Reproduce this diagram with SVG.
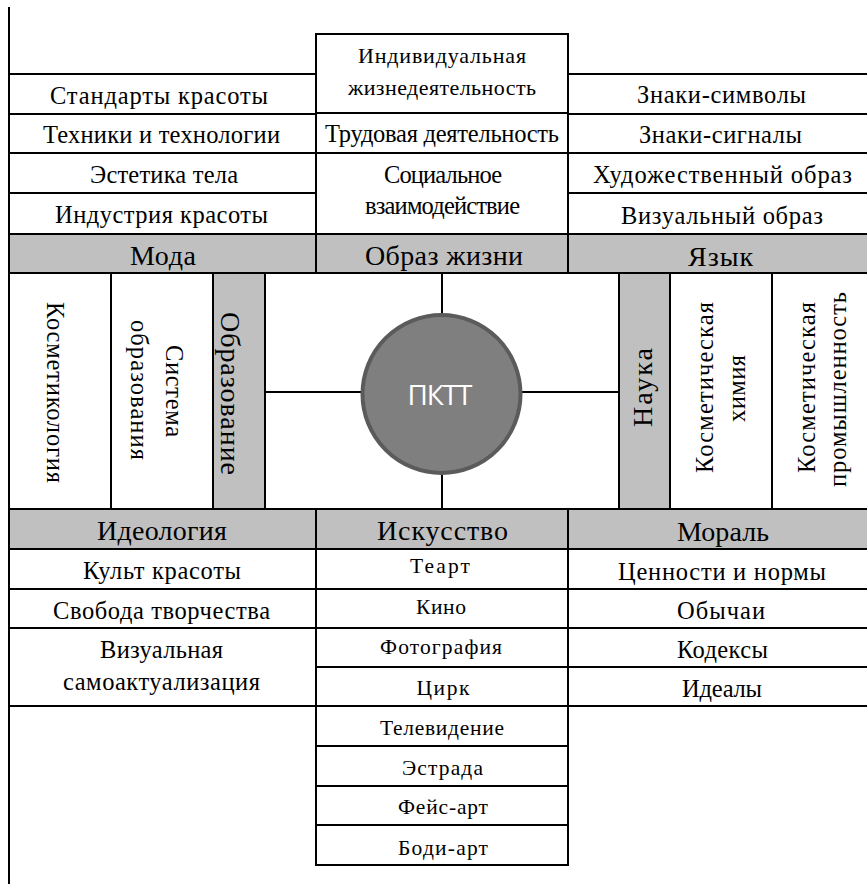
<svg xmlns="http://www.w3.org/2000/svg" width="867" height="884" viewBox="0 0 867 884">
<style>
.c{fill:#ffffff;stroke:#000000;stroke-width:2}
.h{fill:#c0c0c0;stroke:#000000;stroke-width:2}
.t{font-family:"Liberation Serif","Times New Roman",serif;font-size:24.5px;fill:#000000;text-anchor:middle}
.s{font-size:22px}
.xs{font-size:21.5px}
.hd{font-size:28px}
.ln{stroke:#000000;stroke-width:2;fill:none}
</style>
<rect x="0" y="0" width="867" height="884" fill="#ffffff"/>

<g id="frame">
<line class="ln" x1="9" y1="7" x2="9" y2="884"/>
</g>

<g id="moda-items">
<rect class="c" x="9" y="74" width="307" height="40"/>
<rect class="c" x="9" y="114" width="307" height="39"/>
<rect class="c" x="9" y="153" width="307" height="40"/>
<rect class="c" x="9" y="193" width="307" height="41"/>
<text class="t" x="159" y="104" textLength="218" lengthAdjust="spacing">Стандарты красоты</text>
<text class="t" x="161.5" y="143" textLength="237" lengthAdjust="spacing">Техники и технологии</text>
<text class="t" x="164" y="183" textLength="148" lengthAdjust="spacing">Эстетика тела</text>
<text class="t" x="161.5" y="223" textLength="213" lengthAdjust="spacing">Индустрия красоты</text>
</g>

<g id="obraz-items">
<rect class="c" x="316" y="34" width="252" height="79"/>
<rect class="c" x="316" y="113" width="252" height="40"/>
<rect class="c" x="316" y="153" width="252" height="81"/>
<text class="t s" x="442" y="63" textLength="168" lengthAdjust="spacing">Индивидуальная</text>
<text class="t s" x="442" y="95" textLength="188" lengthAdjust="spacing">жизнедеятельность</text>
<text class="t" x="442" y="142" textLength="234" lengthAdjust="spacing">Трудовая деятельность</text>
<text class="t" x="443" y="183" textLength="118" lengthAdjust="spacing">Социальное</text>
<text class="t" x="442.5" y="214" textLength="155" lengthAdjust="spacing">взаимодействие</text>
</g>

<g id="yazyk-items">
<rect class="c" x="568" y="74" width="301" height="40"/>
<rect class="c" x="568" y="114" width="301" height="39"/>
<rect class="c" x="568" y="153" width="301" height="40"/>
<rect class="c" x="568" y="193" width="301" height="41"/>
<text class="t" x="721.5" y="103" textLength="169" lengthAdjust="spacing">Знаки-символы</text>
<text class="t" x="720.5" y="143" textLength="163" lengthAdjust="spacing">Знаки-сигналы</text>
<text class="t" x="722.5" y="183" textLength="259" lengthAdjust="spacing">Художественный образ</text>
<text class="t" x="722" y="224" textLength="202" lengthAdjust="spacing">Визуальный образ</text>
</g>

<g id="headers-top">
<rect class="h" x="9" y="234" width="307" height="39"/>
<rect class="h" x="316" y="234" width="252" height="39"/>
<rect class="h" x="568" y="234" width="301" height="39"/>
<text class="t hd" x="163" y="265" textLength="66" lengthAdjust="spacing">Мода</text>
<text class="t hd" x="444" y="265" textLength="158" lengthAdjust="spacing">Образ жизни</text>
<text class="t hd" x="720.5" y="266" textLength="65" lengthAdjust="spacing">Язык</text>
</g>

<g id="obrazovanie">
<rect class="c" x="9" y="273" width="102" height="236"/>
<rect class="c" x="111" y="273" width="102" height="236"/>
<rect class="h" x="213" y="273" width="52" height="236"/>
<text class="t" transform="translate(47,392.5) rotate(90)" textLength="181" lengthAdjust="spacing">Косметикология</text>
<text class="t" transform="translate(166,391) rotate(90)" textLength="92" lengthAdjust="spacing">Система</text>
<text class="t" transform="translate(131,390) rotate(90)" textLength="140" lengthAdjust="spacing">образования</text>
<text class="t hd" transform="translate(221,393.5) rotate(90)" textLength="163" lengthAdjust="spacing">Образование</text>
</g>

<g id="center-area">
<rect class="c" x="265" y="273" width="354" height="236"/>
</g>

<g id="connectors">
<line class="ln" x1="265" y1="392" x2="619" y2="392"/>
<line class="ln" x1="442" y1="273" x2="442" y2="509"/>
</g>

<g id="pktt">
<circle cx="441.5" cy="394" r="79" fill="#7f7f7f" stroke="#5b5b5b" stroke-width="4"/>
<text x="440" y="405" font-family="'Open Sans','Noto Sans',sans-serif" font-size="28" fill="#ffffff" text-anchor="middle" textLength="65" lengthAdjust="spacing">ПКТТ</text>
</g>

<g id="nauka">
<rect class="h" x="619" y="273" width="51" height="236"/>
<rect class="c" x="670" y="273" width="102" height="236"/>
<rect class="c" x="772" y="273" width="97" height="236"/>
<text class="t hd" transform="translate(652,387.5) rotate(-90)" textLength="79" lengthAdjust="spacing">Наука</text>
<text class="t" transform="translate(713,387.5) rotate(-90)" textLength="171" lengthAdjust="spacing">Косметическая</text>
<text class="t" transform="translate(745,388.5) rotate(-90)" textLength="67" lengthAdjust="spacing">химия</text>
<text class="t" transform="translate(815,387.5) rotate(-90)" textLength="171" lengthAdjust="spacing">Косметическая</text>
<text class="t" transform="translate(846,389.5) rotate(-90)" textLength="195" lengthAdjust="spacing">промышленность</text>
</g>

<g id="headers-bottom">
<rect class="h" x="9" y="509" width="307" height="40"/>
<rect class="h" x="316" y="509" width="252" height="40"/>
<rect class="h" x="568" y="509" width="301" height="40"/>
<text class="t hd" x="162" y="540" textLength="130" lengthAdjust="spacing">Идеология</text>
<text class="t hd" x="442.5" y="540" textLength="131" lengthAdjust="spacing">Искусство</text>
<text class="t hd" x="723" y="541" textLength="92" lengthAdjust="spacing">Мораль</text>
</g>

<g id="ideologiya-items">
<rect class="c" x="9" y="549" width="307" height="40"/>
<rect class="c" x="9" y="589" width="307" height="39"/>
<rect class="c" x="9" y="628" width="307" height="78"/>
<text class="t" x="162" y="579" textLength="158" lengthAdjust="spacing">Культ красоты</text>
<text class="t" x="161.5" y="619" textLength="217" lengthAdjust="spacing">Свобода творчества</text>
<text class="t" x="161.5" y="658" textLength="123" lengthAdjust="spacing">Визуальная</text>
<text class="t" x="161.5" y="690" textLength="197" lengthAdjust="spacing">самоактуализация</text>
</g>

<g id="iskusstvo-items">
<rect class="c" x="316" y="549" width="252" height="40"/>
<rect class="c" x="316" y="589" width="252" height="39"/>
<rect class="c" x="316" y="628" width="252" height="39"/>
<rect class="c" x="316" y="667" width="252" height="39"/>
<rect class="c" x="316" y="706" width="252" height="40"/>
<rect class="c" x="316" y="746" width="252" height="40"/>
<rect class="c" x="316" y="786" width="252" height="39"/>
<rect class="c" x="316" y="825" width="252" height="40"/>
<text class="t xs" x="440" y="573" textLength="60" lengthAdjust="spacing">Теарт</text>
<text class="t xs" x="441" y="614" textLength="50" lengthAdjust="spacing">Кино</text>
<text class="t xs" x="441" y="654" textLength="122" lengthAdjust="spacing">Фотография</text>
<text class="t xs" x="443" y="695" textLength="53" lengthAdjust="spacing">Цирк</text>
<text class="t xs" x="442" y="735" textLength="124" lengthAdjust="spacing">Телевидение</text>
<text class="t xs" x="442.5" y="775" textLength="81" lengthAdjust="spacing">Эстрада</text>
<text class="t xs" x="443" y="814" textLength="90" lengthAdjust="spacing">Фейс-арт</text>
<text class="t xs" x="443" y="855" textLength="90" lengthAdjust="spacing">Боди-арт</text>
</g>

<g id="moral-items">
<rect class="c" x="568" y="549" width="301" height="40"/>
<rect class="c" x="568" y="589" width="301" height="39"/>
<rect class="c" x="568" y="628" width="301" height="39"/>
<rect class="c" x="568" y="667" width="301" height="39"/>
<text class="t" x="722" y="580" textLength="208" lengthAdjust="spacing">Ценности и нормы</text>
<text class="t" x="721" y="619" textLength="88" lengthAdjust="spacing">Обычаи</text>
<text class="t" x="722.5" y="658" textLength="91" lengthAdjust="spacing">Кодексы</text>
<text class="t" x="722" y="697" textLength="80" lengthAdjust="spacing">Идеалы</text>
</g>
</svg>
